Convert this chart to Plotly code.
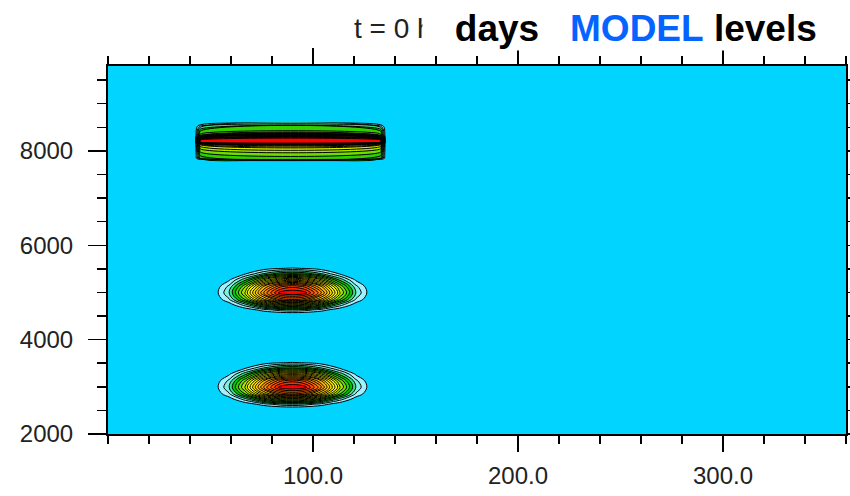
import plotly.graph_objects as go

# ---------------- data ----------------
x_ticks = [100, 200, 300]
x_ticklabels = ["100.0", "200.0", "300.0"]
y_ticks = [2000, 4000, 6000, 8000]
y_ticklabels = ["2000", "4000", "6000", "8000"]

# contour levels
level_start, level_end, level_step = 0.05, 0.95, 0.05

# upper slab (tracer near 8200 m): longitudes of the grid columns and
# height rows, with the vertical profile of the values inside the slab
bar_lon = [42.5, 45.0, 133.0, 135.5]
bar_inside = [0, 1, 1, 0]
bar_hgt = [7780, 7820, 7845, 7900, 7960, 8020, 8080, 8130, 8160, 8175,
           8185, 8225, 8245, 8290, 8335, 8420, 8510, 8568, 8600]
bar_profile = [0.0, 0.02, 0.21, 0.25, 0.29, 0.33, 0.38, 0.45, 0.60, 0.85,
               0.98, 0.98, 0.90, 0.60, 0.32, 0.25, 0.14, 0.02, 0.0]

# the two bells (identical), centre positions
blob_lon = [90, 90]
blob_hgt = [5050, 3050]
# grid offsets around each centre
blob_dlon = [-43, -38, -31, -23, -14, -6, 0, 6, 14, 23, 31, 38, 43]
blob_dhgt = [-560, -500, -420, -315, -200, -60, 80, 220, 345, 460, 540, 590]
blob_z = [
    [0, 0, 0, 0, 0, 0, 0, 0, 0, 0, 0, 0, 0],
    [0, 0, 0, 0, 0.001, 0.010, 0.014, 0.010, 0.001, 0, 0, 0, 0],
    [0, 0, 0, 0.010, 0.074, 0.125, 0.141, 0.125, 0.074, 0.010, 0, 0, 0],
    [0, 0, 0.016, 0.122, 0.299, 0.416, 0.442, 0.416, 0.299, 0.122, 0.016, 0, 0],
    [0, 0.004, 0.091, 0.305, 0.588, 0.762, 0.803, 0.762, 0.588, 0.305, 0.091, 0.004, 0],
    [0, 0.018, 0.146, 0.413, 0.760, 0.975, 1.000, 0.975, 0.760, 0.413, 0.146, 0.018, 0],
    [0, 0.008, 0.112, 0.345, 0.650, 0.834, 0.880, 0.834, 0.650, 0.345, 0.112, 0.008, 0],
    [0, 0, 0.038, 0.186, 0.403, 0.541, 0.574, 0.541, 0.403, 0.186, 0.038, 0, 0],
    [0, 0, 0, 0.046, 0.157, 0.239, 0.259, 0.239, 0.157, 0.046, 0, 0, 0],
    [0, 0, 0, 0, 0.020, 0.048, 0.055, 0.048, 0.020, 0, 0, 0, 0],
    [0, 0, 0, 0, 0, 0, 0.001, 0, 0, 0, 0, 0, 0],
    [0, 0, 0, 0, 0, 0, 0, 0, 0, 0, 0, 0, 0],
]

# colour of each band (below first level ... above last level)
band_colors = [
    "#00D4FF", "#A2F0FF", "#7CF2E2", "#3EDC84", "#00C800", "#30D000",
    "#70DC00", "#A8E800", "#D8F000", "#FFFF00", "#FFEE00", "#FFDD00",
    "#FFCC00", "#FFB400", "#FF9C00", "#FF8400", "#FF6800", "#FF4C00",
    "#FF2800", "#FF0000",
]
bg_color = "#00D4FF"

# ---------------- figure ----------------
n = len(band_colors) - 1
colorscale = []
for i, c in enumerate(band_colors):
    lo = max(0.0, (i - 0.5) / n)
    hi = min(1.0, (i + 0.5) / n)
    colorscale.append([lo, c])
    colorscale.append([hi, c])

common = dict(
    colorscale=colorscale,
    showscale=False,
    autocontour=False,
    contours=dict(start=level_start, end=level_end, size=level_step,
                  coloring="fill", showlines=True),
    line=dict(color="black", width=1, smoothing=1),
    zmin=level_start - level_step / 2,
    zmax=level_end + level_step / 2,
    hoverinfo="skip",
)

fig = go.Figure()

bar_z = [[v * k for k in bar_inside] for v in bar_profile]
fig.add_trace(go.Contour(x=bar_lon, y=bar_hgt, z=bar_z, **common))

for cx, cy in zip(blob_lon, blob_hgt):
    fig.add_trace(go.Contour(
        x=[cx + d for d in blob_dlon],
        y=[cy + d for d in blob_dhgt],
        z=blob_z, **common))

tick_font = dict(family="Liberation Sans, Arial, sans-serif", size=24, color="#222222")

W, H = 850, 496
L, R, T, B = 108, 4, 66, 62
pw, ph = W - L - R, H - T - B

fig.update_layout(
    width=W, height=H,
    margin=dict(l=L, r=R, t=T, b=B, autoexpand=False),
    paper_bgcolor="white",
    plot_bgcolor=bg_color,
    showlegend=False,
    hovermode=False,
    xaxis=dict(
        range=[0, 360], tickmode="array", tickvals=x_ticks, ticktext=x_ticklabels,
        ticks="outside", ticklen=16, tickwidth=1.5, tickcolor="black",
        showline=True, linecolor="black", linewidth=2, mirror="ticks",
        showgrid=False, zeroline=False, tickfont=tick_font, automargin=False,
        ticklabelstandoff=3,
        minor=dict(tickmode="linear", tick0=0, dtick=20, ticks="outside",
                   ticklen=8, tickwidth=1.5, tickcolor="black", showgrid=False),
    ),
    yaxis=dict(
        range=[2000, 9800], tickmode="array", tickvals=y_ticks, ticktext=y_ticklabels,
        ticks="outside", ticklen=18, tickwidth=1.5, tickcolor="black",
        showline=True, linecolor="black", linewidth=2, mirror="ticks",
        showgrid=False, zeroline=False, tickfont=tick_font, automargin=False,
        ticklabelstandoff=10,
        minor=dict(tickmode="linear", tick0=2000, dtick=500, ticks="outside",
                   ticklen=9, tickwidth=1.5, tickcolor="black", showgrid=False),
    ),
)


def px_x(p):
    return (p - L) / pw


def px_y(p):
    return 1 + (T - p) / ph


nb = "\u00a0"
fig.add_annotation(
    xref="paper", yref="paper", x=px_x(352), y=px_y(29),
    xanchor="left", yanchor="middle", showarrow=False,
    text="t = 0 h", font=dict(family="Liberation Sans, Arial, sans-serif",
                              size=28, color="#222222"),
)
fig.add_annotation(
    xref="paper", yref="paper", x=px_x(422), y=px_y(28),
    xanchor="left", yanchor="middle", showarrow=False, bgcolor="white",
    text=(nb * 3 + "<b>days</b>" + nb * 3
          + "<span style='color:#0564FF'><b>MODEL</b></span>" + nb + "<b>levels</b>"),
    font=dict(family="Liberation Sans, Arial, sans-serif", size=37, color="black"),
)

fig.write_html(
    "out.html",
    config={"displayModeBar": False, "staticPlot": True},
    post_script="document.body.style.margin='0';document.body.style.overflow='hidden';",
)
